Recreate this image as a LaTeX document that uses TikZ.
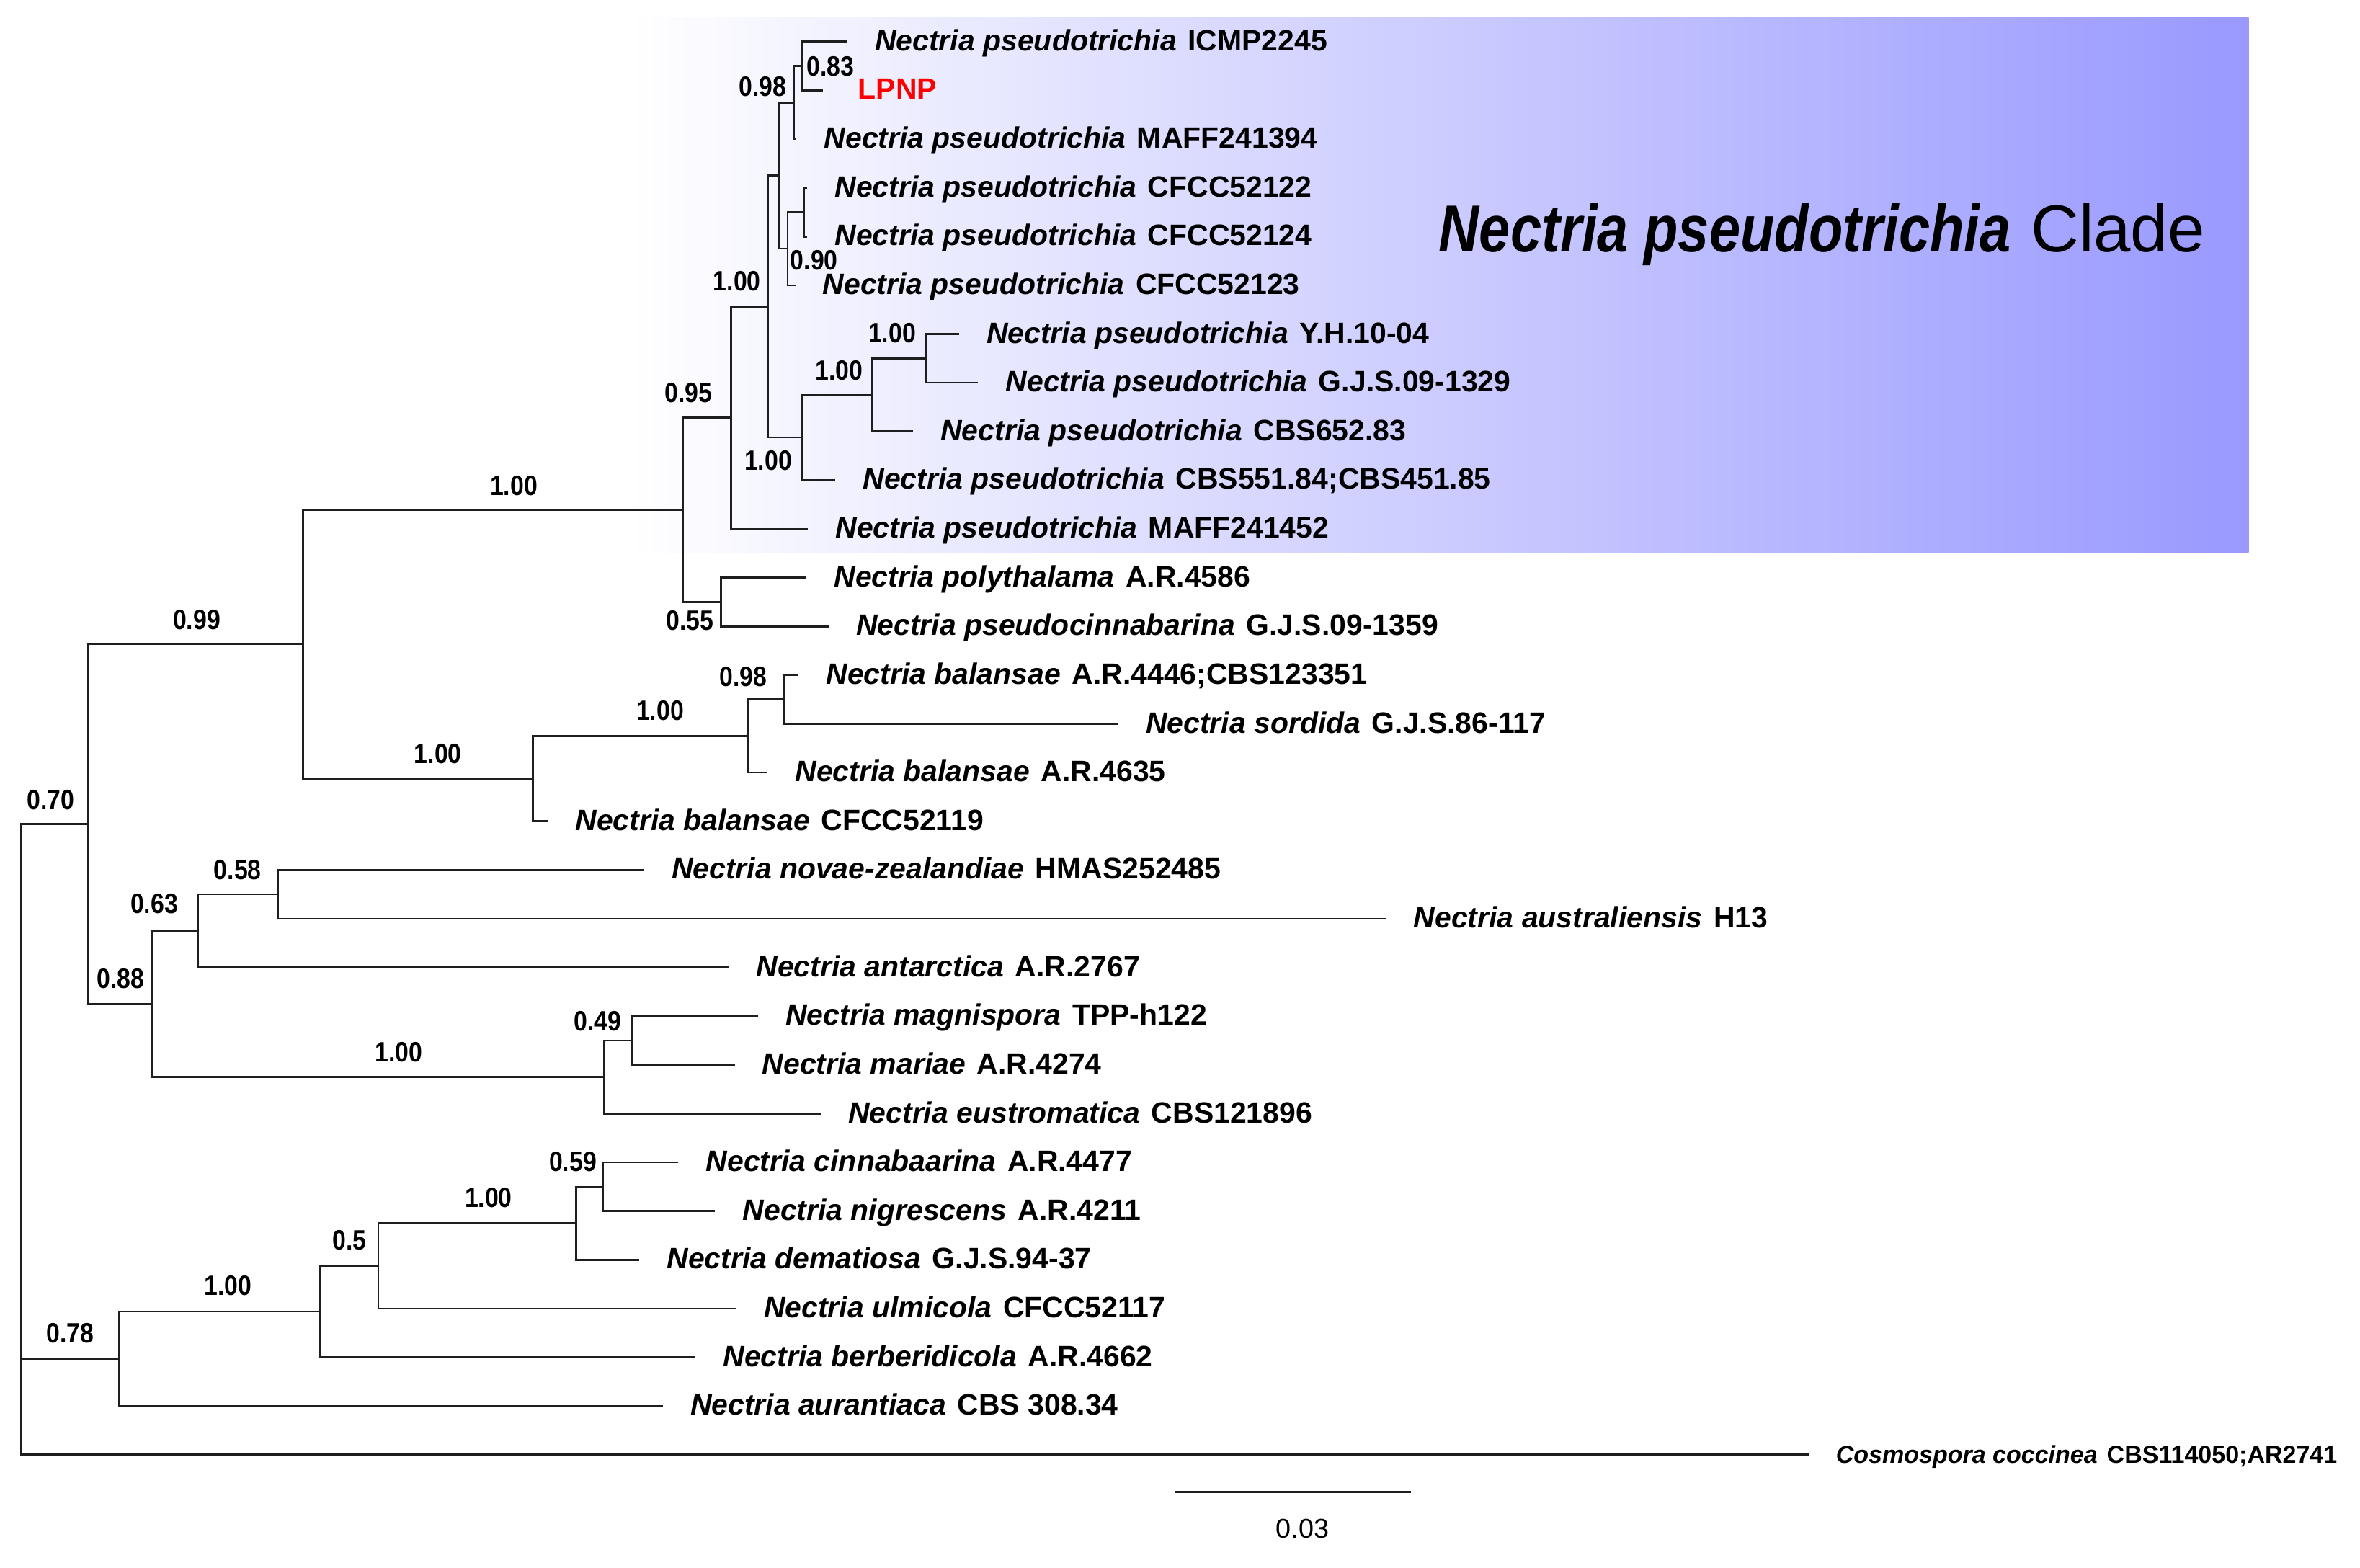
\documentclass[tikz,border=0pt]{standalone}
\usepackage{fontspec}
\setmainfont{Liberation Sans}
\usepackage{graphicx}
\definecolor{cladeblue}{RGB}{153,153,255}
\definecolor{brcol}{RGB}{30,30,30}
\definecolor{lpnpred}{RGB}{255,0,0}
\newcommand\taxon[2]{\textbf{\textit{#1}}\hspace{0.38em}\textbf{#2}}
\newcommand\bsup[1]{\scalebox{0.87}[1]{#1}}
\begin{document}
\begin{tikzpicture}[x=1pt,y=-1pt,
  br/.style={draw=brcol, line width=1.25pt},
  leaf/.style={anchor=base west, inner sep=0pt, xshift=18pt, yshift=-6pt, font=\fontsize{19.5}{20}\selectfont},
  supl/.style={anchor=center, inner sep=0pt, font=\fontsize{18.5}{19}\selectfont\bfseries},
]
\useasboundingbox (0,0) rectangle (1559.5,1035.7);
\shade[left color=white, right color=cladeblue] (415,11.7) rectangle (1486,365);

% leaf tips
\coordinate (l1) at (560,27.5);
\coordinate (l2) at (543.8,59.7);
\coordinate (l3) at (526.4,91.9);
\coordinate (l4) at (533.5,124.1);
\coordinate (l5) at (533.5,156.3);
\coordinate (l6) at (525.5,188.5);
\coordinate (l7) at (633.8,220.7);
\coordinate (l8) at (646.4,252.9);
\coordinate (l9) at (603.4,285.1);
\coordinate (l10) at (552,317.3);
\coordinate (l11) at (534,349.5);
\coordinate (l12) at (533,381.7);
\coordinate (l13) at (547.6,413.9);
\coordinate (l14) at (527.8,446.1);
\coordinate (l15) at (739,478.3);
\coordinate (l16) at (507.3,510.5);
\coordinate (l17) at (362,542.7);
\coordinate (l18) at (425.6,574.9);
\coordinate (l19) at (916,607.1);
\coordinate (l20) at (481.6,639.3);
\coordinate (l21) at (501,671.5);
\coordinate (l22) at (485.5,703.7);
\coordinate (l23) at (542.4,735.9);
\coordinate (l24) at (448.3,768.1);
\coordinate (l25) at (472.6,800.3);
\coordinate (l26) at (422.5,832.5);
\coordinate (l27) at (486.6,864.7);
\coordinate (l28) at (459.7,896.9);
\coordinate (l29) at (438,929.1);
\coordinate (l30) at (1195,961.3);

% internal nodes
\coordinate (A) at (530.3,43.6);
\coordinate (B) at (524.4,67.75);
\coordinate (C) at (531.1,140.2);
\coordinate (D) at (520.5,164.35);
\coordinate (E) at (514.5,116.05);
\coordinate (F) at (612.1,236.8);
\coordinate (G) at (576.5,260.95);
\coordinate (H) at (530.3,289.1);
\coordinate (I) at (507.5,202.6);
\coordinate (J) at (483.0,276.05);
\coordinate (K) at (476.5,397.8);
\coordinate (L) at (451.2,336.9);
\coordinate (N1) at (518.4,462.2);
\coordinate (N2) at (494.3,486.35);
\coordinate (N3) at (352.2,514.5);
\coordinate (M) at (200.2,425.7);
\coordinate (P1) at (183.6,591.0);
\coordinate (P2) at (131.0,615.15);
\coordinate (Q1) at (417.4,687.6);
\coordinate (Q2) at (399.3,711.75);
\coordinate (P3) at (100.7,663.45);
\coordinate (R) at (58.4,544.6);
\coordinate (S1) at (398.2,784.2);
\coordinate (S2) at (380.7,808.35);
\coordinate (S3) at (250.0,836.5);
\coordinate (S4) at (211.8,866.7);
\coordinate (S5) at (78.5,897.9);
\coordinate (root) at (14,897.9);

% branches
\draw[br] (A) |- (l1) (A) |- (l2);
\draw[br] (B) |- (A) (B) |- (l3);
\draw[br] (C) |- (l4) (C) |- (l5);
\draw[br] (D) |- (C) (D) |- (l6);
\draw[br] (E) |- (B) (E) |- (D);
\draw[br] (F) |- (l7) (F) |- (l8);
\draw[br] (G) |- (F) (G) |- (l9);
\draw[br] (H) |- (G) (H) |- (l10);
\draw[br] (I) |- (E) (I) |- (H);
\draw[br] (J) |- (I) (J) |- (l11);
\draw[br] (K) |- (l12) (K) |- (l13);
\draw[br] (L) |- (J) (L) |- (K);
\draw[br] (N1) |- (l14) (N1) |- (l15);
\draw[br] (N2) |- (N1) (N2) |- (l16);
\draw[br] (N3) |- (N2) (N3) |- (l17);
\draw[br] (M) |- (L) (M) |- (N3);
\draw[br] (P1) |- (l18) (P1) |- (l19);
\draw[br] (P2) |- (P1) (P2) |- (l20);
\draw[br] (Q1) |- (l21) (Q1) |- (l22);
\draw[br] (Q2) |- (Q1) (Q2) |- (l23);
\draw[br] (P3) |- (P2) (P3) |- (Q2);
\draw[br] (R) |- (M) (R) |- (P3);
\draw[br] (S1) |- (l24) (S1) |- (l25);
\draw[br] (S2) |- (S1) (S2) |- (l26);
\draw[br] (S3) |- (S2) (S3) |- (l27);
\draw[br] (S4) |- (S3) (S4) |- (l28);
\draw[br] (S5) |- (S4) (S5) |- (l29);
\draw[br] (root) |- (R) (root) |- (S5) (root) |- (l30);

% leaf labels
\node[leaf] (t1) at (l1) {\taxon{Nectria pseudotrichia}{ICMP2245}};
\node[leaf, xshift=5pt] (t2) at (l2) {\textcolor{lpnpred}{\textbf{LPNP}}};
\node[leaf] (t3) at (l3) {\taxon{Nectria pseudotrichia}{MAFF241394}};
\node[leaf] (t4) at (l4) {\taxon{Nectria pseudotrichia}{CFCC52122}};
\node[leaf] (t5) at (l5) {\taxon{Nectria pseudotrichia}{CFCC52124}};
\node[leaf] (t6) at (l6) {\taxon{Nectria pseudotrichia}{CFCC52123}};
\node[leaf] (t7) at (l7) {\taxon{Nectria pseudotrichia}{Y.H.10-04}};
\node[leaf] (t8) at (l8) {\taxon{Nectria pseudotrichia}{G.J.S.09-1329}};
\node[leaf] (t9) at (l9) {\taxon{Nectria pseudotrichia}{CBS652.83}};
\node[leaf] (t10) at (l10) {\taxon{Nectria pseudotrichia}{CBS551.84;CBS451.85}};
\node[leaf] (t11) at (l11) {\taxon{Nectria pseudotrichia}{MAFF241452}};
\node[leaf] (t12) at (l12) {\taxon{Nectria polythalama}{A.R.4586}};
\node[leaf] (t13) at (l13) {\taxon{Nectria pseudocinnabarina}{G.J.S.09-1359}};
\node[leaf] (t14) at (l14) {\taxon{Nectria balansae}{A.R.4446;CBS123351}};
\node[leaf] (t15) at (l15) {\taxon{Nectria sordida}{G.J.S.86-117}};
\node[leaf] (t16) at (l16) {\taxon{Nectria balansae}{A.R.4635}};
\node[leaf] (t17) at (l17) {\taxon{Nectria balansae}{CFCC52119}};
\node[leaf] (t18) at (l18) {\taxon{Nectria novae-zealandiae}{HMAS252485}};
\node[leaf] (t19) at (l19) {\taxon{Nectria australiensis}{H13}};
\node[leaf] (t20) at (l20) {\taxon{Nectria antarctica}{A.R.2767}};
\node[leaf] (t21) at (l21) {\taxon{Nectria magnispora}{TPP-h122}};
\node[leaf] (t22) at (l22) {\taxon{Nectria mariae}{A.R.4274}};
\node[leaf] (t23) at (l23) {\taxon{Nectria eustromatica}{CBS121896}};
\node[leaf] (t24) at (l24) {\taxon{Nectria cinnabaarina}{A.R.4477}};
\node[leaf] (t25) at (l25) {\taxon{Nectria nigrescens}{A.R.4211}};
\node[leaf] (t26) at (l26) {\taxon{Nectria dematiosa}{G.J.S.94-37}};
\node[leaf] (t27) at (l27) {\taxon{Nectria ulmicola}{CFCC52117}};
\node[leaf] (t28) at (l28) {\taxon{Nectria berberidicola}{A.R.4662}};
\node[leaf] (t29) at (l29) {\taxon{Nectria aurantiaca}{CBS 308.34}};
\node[leaf, yshift=0.5pt, font=\fontsize{16.2}{17}\selectfont] (t30) at (l30) {\taxon{Cosmospora coccinea}{CBS114050;AR2741}};

% support values
\node[supl] (sA) at (548.7,43.7) {\bsup{0.83}};
\node[supl] (sB) at (504,57) {\bsup{0.98}};
\node[supl] (sD) at (538,172) {\bsup{0.90}};
\node[supl] (sI) at (487,186) {\bsup{1.00}};
\node[supl] (sF) at (589.5,220) {\bsup{1.00}};
\node[supl] (sG) at (554.5,245) {\bsup{1.00}};
\node[supl] (sH) at (507.6,304.5) {\bsup{1.00}};
\node[supl] (sJ) at (455,259.5) {\bsup{0.95}};
\node[supl] (sK) at (456,410) {\bsup{0.55}};
\node[supl] (sL) at (339.5,321) {\bsup{1.00}};
\node[supl] (sM) at (130,409.6) {\bsup{0.99}};
\node[supl] (sN1) at (491,447.3) {\bsup{0.98}};
\node[supl] (sN2) at (436.2,469.6) {\bsup{1.00}};
\node[supl] (sN3) at (289.4,498.3) {\bsup{1.00}};
\node[supl] (sR) at (33.4,528.5) {\bsup{0.70}};
\node[supl] (sP1) at (157,574.8) {\bsup{0.58}};
\node[supl] (sP2) at (101.9,597.4) {\bsup{0.63}};
\node[supl] (sP3) at (79.7,646.5) {\bsup{0.88}};
\node[supl] (sQ2) at (263.4,695.5) {\bsup{1.00}};
\node[supl] (sQ1) at (395,674.7) {\bsup{0.49}};
\node[supl] (sS1) at (378.6,767.5) {\bsup{0.59}};
\node[supl] (sS2) at (322.8,791.3) {\bsup{1.00}};
\node[supl] (sS3) at (230.9,819.6) {\bsup{0.5}};
\node[supl] (sS4) at (150.8,849.7) {\bsup{1.00}};
\node[supl] (sS5) at (46.5,881) {\bsup{0.78}};

% clade label
\node[anchor=base west, inner sep=0pt, font=\fontsize{44}{46}\selectfont] (clade) at (950.7,166.4)
  {\scalebox{0.84}[1]{\textbf{\textit{Nectria pseudotrichia}}}\hspace{0.3em}Clade};

% scale bar
\coordinate (sb1) at (776.7,986);
\coordinate (sb2) at (932.5,986);
\draw[br] (sb1) -- (sb2);
\node[inner sep=0pt, font=\fontsize{18}{19}\selectfont] (sblab) at (860.6,1010) {0.03};
\end{tikzpicture}
\end{document}
